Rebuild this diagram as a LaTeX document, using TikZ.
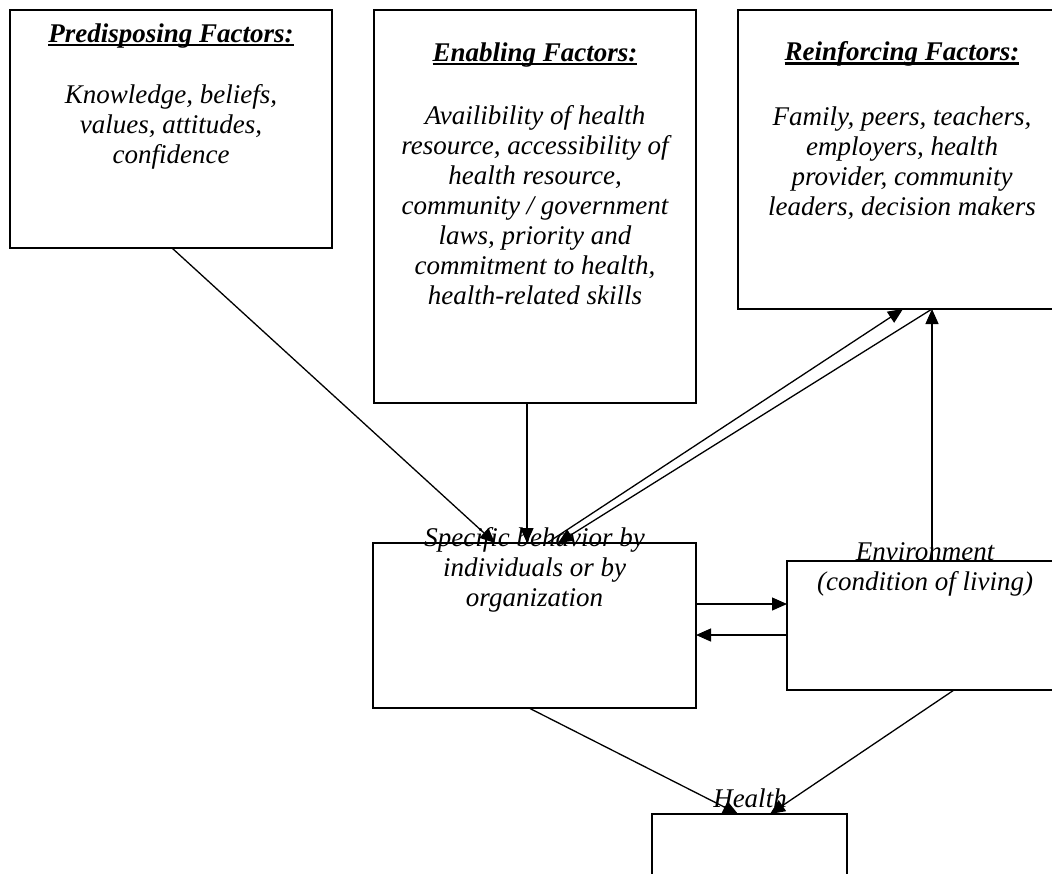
\documentclass[tikz,border=0pt]{standalone}
\usepackage{fontspec}
\setmainfont{Liberation Serif}
\usetikzlibrary{arrows.meta,calc}
\newcommand\hdul[1]{\setbox0\hbox{#1}\rlap{\rule[-4pt]{\wd0}{2.8pt}}\box0}
\tikzset{
  box/.style={draw, line width=2.8pt, inner sep=0pt, outer sep=0pt},
  txt/.style={font=\fontsize{27}{30}\selectfont\itshape, align=center, inner sep=0pt},
  head/.style={font=\fontsize{27}{30}\selectfont\bfseries\itshape, inner sep=0pt},
  conn/.style={line width=1.3pt, -{Triangle[length=15pt,width=13pt]}},
}
\begin{document}
\begin{tikzpicture}[x=1pt,y=-1pt]
\useasboundingbox (0,0) rectangle (1052,873);
\clip (0,0) rectangle (1052,873);
\fill[white] (0,0) rectangle (1052,873);
% boxes
\node[box, minimum width=322pt, minimum height=238pt] (pred) at (171,129) {};
\node[box, minimum width=322pt, minimum height=393pt] (enab) at (535,206.5) {};
\node[box, minimum width=328pt, minimum height=299pt] (reinf) at (902,159.5) {};
\node[box, minimum width=323pt, minimum height=165pt] (spec) at (534.5,625.5) {};
\node[box, minimum width=276pt, minimum height=129pt] (env) at (925,625.5) {};
\node[box, minimum width=195pt, minimum height=86pt] (health) at (749.5,857) {};
% texts
\node[head] (predh) at (171,36) {\hdul{Predisposing Factors:}};
\node[txt] (predt) at (171,127) {Knowledge, beliefs,\\values, attitudes,\\confidence};
\node[head] (enabh) at (535,55) {\hdul{Enabling Factors:}};
\node[txt] (enabt) at (535,205) {Availibility of health\\resource, accessibility of\\health resource,\\community / government\\laws, priority and\\commitment to health,\\health-related skills};
\node[head] (reinfh) at (902,54) {\hdul{Reinforcing Factors:}};
\node[txt] (reinft) at (902,163) {Family, peers, teachers,\\employers, health\\provider, community\\leaders, decision makers};
\node[txt] (spect) at (534.5,570) {Specific behavior by\\individuals or by\\organization};
\node[txt] (envt) at (925,569) {Environment\\(condition of living)};
\node[txt] (healtht) at (750,798) {Health};
% connector end points
\coordinate (p1) at ([xshift=162pt]pred.south west);
\coordinate (s1) at ([xshift=122pt]spec.north west);
\coordinate (e1) at ([xshift=153pt]enab.south west);
\coordinate (s3) at ([xshift=174pt]spec.north west);
\coordinate (r1) at ([xshift=165pt]reinf.south west);
\coordinate (r2) at ([xshift=194pt]reinf.south west);
\coordinate (s4) at ([xshift=185pt]spec.north west);
\coordinate (v1) at ([xshift=145pt]env.north west);
\coordinate (sr1) at ([yshift=-61pt]spec.north east);
\coordinate (el1) at ([yshift=-74pt]env.north west);
\coordinate (sb) at ([xshift=156pt]spec.south west);
\coordinate (h1) at ([xshift=86pt]health.north west);
\coordinate (eb) at ([xshift=167pt]env.south west);
\coordinate (h2) at ([xshift=118pt]health.north west);
% connectors
\draw[conn] (p1) -- (s1);
\draw[conn] (e1) -- (e1 |- spec.north);
\draw[conn] (s3) -- (r1);
\draw[conn] (r2) -- (s4);
\draw[conn] (v1) -- (v1 |- reinf.south);
\draw[conn] (sr1) -- (sr1 -| env.west);
\draw[conn] (el1) -- (el1 -| spec.east);
\draw[conn] (sb) -- (h1);
\draw[conn] (eb) -- (h2);
\end{tikzpicture}
\end{document}
